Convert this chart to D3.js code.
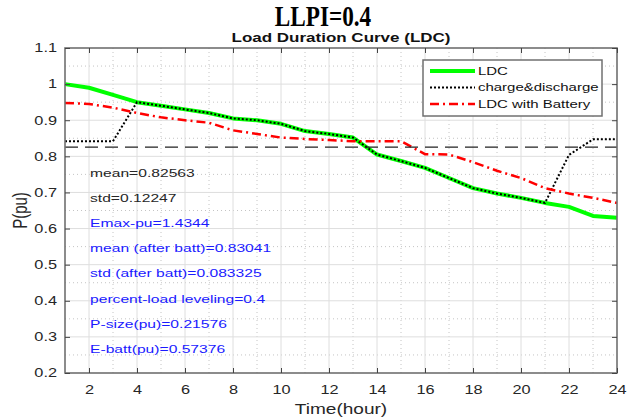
<!DOCTYPE html>
<html><head><meta charset="utf-8">
<script src="https://cdn.jsdelivr.net/npm/d3@7"></script>
<style>body{margin:0;background:#fff}svg{display:block}</style>
</head><body>
<svg id="c" width="630" height="419"></svg>
<script>
const hours = [1,2,3,4,5,6,7,8,9,10,11,12,13,14,15,16,17,18,19,20,21,22,23,24];
const ldc = [1.0,0.99,0.97,0.95,0.94,0.93,0.92,0.905,0.90,0.89,0.87,0.862,0.852,0.805,0.787,0.768,0.74,0.712,0.697,0.685,0.671,0.66,0.635,0.63];
const chargeDischarge = [0.842,0.842,0.842,0.95,0.94,0.93,0.92,0.905,0.90,0.89,0.87,0.862,0.852,0.805,0.787,0.768,0.74,0.712,0.697,0.685,0.671,0.804,0.847,0.847];
const ldcBattery = [0.948,0.945,0.935,0.92,0.908,0.90,0.893,0.872,0.862,0.852,0.848,0.845,0.842,0.842,0.842,0.806,0.805,0.784,0.76,0.74,0.712,0.697,0.685,0.671];
const meanValue = 0.82563;
const xTicks = [2,4,6,8,10,12,14,16,18,20,22,24];
const yTicks = [0.2,0.3,0.4,0.5,0.6,0.7,0.8,0.9,1.0,1.1];
const yTickLabels = ["0.2","0.3","0.4","0.5","0.6","0.7","0.8","0.9","1","1.1"];
const legendLabels = ["LDC","charge&discharge","LDC with Battery"];
const notes = ["mean=0.82563","std=0.12247","Emax-pu=1.4344","mean (after batt)=0.83041","std (after batt)=0.083325","percent-load leveling=0.4","P-size(pu)=0.21576","E-batt(pu)=0.57376"];
const noteColors = ["#262626","#262626","#1a1aff","#1a1aff","#1a1aff","#1a1aff","#1a1aff","#1a1aff"];
const noteY = [0.752,0.684,0.615,0.545,0.475,0.405,0.335,0.265];

const SX = 1.36;
const L = 65, R = 617, T = 48, B = 373;
const svg = d3.select("#c");
const x = d3.scaleLinear().domain([1,24]).range([L,R]);
const y = d3.scaleLinear().domain([0.2,1.1]).range([B,T]);
const font = "Liberation Sans, Arial, sans-serif";

// minor grid
const minorX = hours.filter(h => h % 2 === 1 && h > 1);
const minorY = yTicks.slice(0,-1).map(v => v + 0.05);
svg.append("g").selectAll("line").data(minorX).join("line")
  .attr("x1", d => x(d)).attr("x2", d => x(d)).attr("y1", T).attr("y2", B)
  .attr("stroke", "#c4c4c4").attr("stroke-width", 1).attr("stroke-dasharray", "1,3");
svg.append("g").selectAll("line").data(minorY).join("line")
  .attr("y1", d => y(d)).attr("y2", d => y(d)).attr("x1", L).attr("x2", R)
  .attr("stroke", "#c4c4c4").attr("stroke-width", 1).attr("stroke-dasharray", "1,3");
// major grid
svg.append("g").selectAll("line").data(xTicks.slice(0,-1)).join("line")
  .attr("x1", d => x(d)).attr("x2", d => x(d)).attr("y1", T).attr("y2", B)
  .attr("stroke", "#dedede").attr("stroke-width", 1);
svg.append("g").selectAll("line").data(yTicks.slice(1,-1)).join("line")
  .attr("y1", d => y(d)).attr("y2", d => y(d)).attr("x1", L).attr("x2", R)
  .attr("stroke", "#dedede").attr("stroke-width", 1);

// lines
const line = d3.line().x((d,i) => x(hours[i])).y(d => y(d));
svg.append("path").datum(ldc).attr("d", line).attr("fill","none")
  .attr("stroke","#00ff00").attr("stroke-width",4).attr("stroke-linejoin","round");
svg.append("path").datum(chargeDischarge).attr("d", line).attr("fill","none")
  .attr("stroke","#000").attr("stroke-width",2).attr("stroke-dasharray","2,2");
svg.append("path").datum(ldcBattery).attr("d", line).attr("fill","none")
  .attr("stroke","#ff0000").attr("stroke-width",2.5).attr("stroke-dasharray","9,4,2,4");
svg.append("line").attr("x1", x(1)).attr("x2", x(24)).attr("y1", y(meanValue)).attr("y2", y(meanValue))
  .attr("stroke","#222").attr("stroke-width",1.2).attr("stroke-dasharray","13,7");

// box
svg.append("rect").attr("x",L).attr("y",T).attr("width",R-L).attr("height",B-T)
  .attr("fill","none").attr("stroke","#707070").attr("stroke-width",1.6);

// axes
const xAxis = d3.axisBottom(x).tickValues(xTicks).tickSize(-5).tickPadding(12).tickFormat(d3.format("d"));
const gx = svg.append("g").attr("transform",`translate(0,${B})`).call(xAxis);
gx.select(".domain").remove();
gx.selectAll(".tick line").attr("stroke","#444");
gx.selectAll(".tick text").attr("font-family",font).attr("font-size",12).attr("fill","#262626")
  .attr("transform",`scale(${SX},1)`);
const gxTop = svg.append("g").attr("transform",`translate(0,${T})`).call(d3.axisTop(x).tickValues(xTicks).tickSize(-5).tickFormat(""));
gxTop.select(".domain").remove(); gxTop.selectAll(".tick line").attr("stroke","#444");

const yAxis = d3.axisLeft(y).tickValues(yTicks).tickSize(-5).tickPadding(0).tickFormat((d,i) => yTickLabels[i]);
const gy = svg.append("g").attr("transform",`translate(${L},0)`).call(yAxis);
gy.select(".domain").remove();
gy.selectAll(".tick line").attr("stroke","#444");
gy.selectAll(".tick text").attr("font-family",font).attr("font-size",12).attr("fill","#262626")
  .attr("x", -8/SX).attr("transform",`scale(${SX},1)`);
const gyR = svg.append("g").attr("transform",`translate(${R},0)`).call(d3.axisRight(y).tickValues(yTicks).tickSize(-5).tickFormat(""));
gyR.select(".domain").remove(); gyR.selectAll(".tick line").attr("stroke","#444");

// axis labels
svg.append("text").attr("transform",`translate(${(L+R)/2},414) scale(${SX},1)`)
  .attr("text-anchor","middle").attr("font-family",font).attr("font-size",14).attr("fill","#262626").text("Time(hour)");
svg.append("text").attr("transform",`translate(27,${(T+B)/2}) scale(${SX},1) rotate(-90)`)
  .attr("text-anchor","middle").attr("font-family",font).attr("font-size",15).attr("fill","#262626").text("P(pu)");

// titles
svg.append("text").attr("transform",`translate(323,26) scale(0.8,1)`)
  .attr("text-anchor","middle").attr("font-family","Liberation Serif, Times New Roman, serif")
  .attr("font-weight","bold").attr("font-size",29).attr("fill","#000").text("LLPI=0.4");
svg.append("text").attr("transform",`translate(${(L+R)/2},42) scale(${SX},1)`)
  .attr("text-anchor","middle").attr("font-family",font).attr("font-weight","bold")
  .attr("font-size",12.5).attr("fill","#111").text("Load Duration Curve (LDC)");

// notes
svg.append("g").selectAll("text").data(notes).join("text")
  .attr("transform",(d,i) => `translate(${x(2)+1},${y(noteY[i])}) scale(${SX},1)`)
  .attr("dominant-baseline","central").attr("font-family",font).attr("font-size",11.5)
  .attr("fill",(d,i) => noteColors[i]).text(d => d);

// legend
const lg = svg.append("g");
lg.append("rect").attr("x",423).attr("y",60).attr("width",179).attr("height",56)
  .attr("fill","#fff").attr("stroke","#707070").attr("stroke-width",1.5);
const legStyles = [
  {c:"#00ff00", w:4, d:null},
  {c:"#000", w:2, d:"2,2"},
  {c:"#ff0000", w:2.5, d:"9,4,2,4"}
];
legendLabels.forEach((lab,i) => {
  const yy = 71 + i*16.5;
  lg.append("line").attr("x1",430).attr("x2",475).attr("y1",yy).attr("y2",yy)
    .attr("stroke",legStyles[i].c).attr("stroke-width",legStyles[i].w)
    .attr("stroke-dasharray",legStyles[i].d);
  lg.append("text").attr("transform",`translate(478,${yy}) scale(${SX},1)`)
    .attr("dominant-baseline","central").attr("font-family",font).attr("font-size",11)
    .attr("fill","#111").text(lab);
});
</script>
</body></html>
